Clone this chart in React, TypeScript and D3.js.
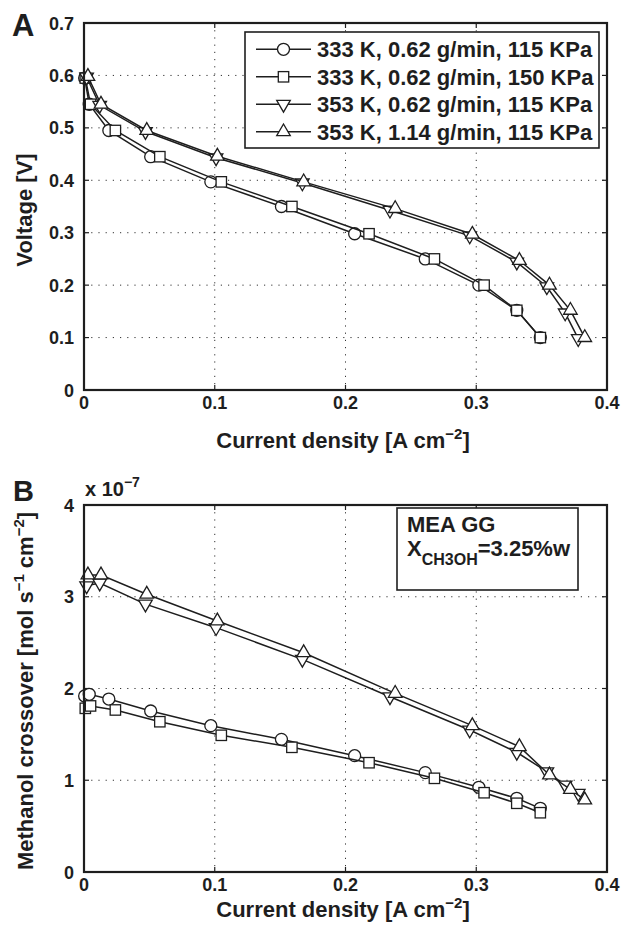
import React from 'react';
import * as d3 from 'd3';

// ---------- data ----------
const seriesLabels = [
  '333 K, 0.62 g/min, 115 KPa',
  '333 K, 0.62 g/min, 150 KPa',
  '353 K, 0.62 g/min, 115 KPa',
  '353 K, 1.14 g/min, 115 KPa',
];
const seriesMarkers = ['circle', 'square', 'down', 'up'];

const currentS1 = [0.0005, 0.004, 0.019, 0.051, 0.097, 0.151, 0.207, 0.261, 0.302, 0.331, 0.349];
const currentS2 = [0.001, 0.005, 0.024, 0.058, 0.105, 0.159, 0.218, 0.268, 0.306, 0.331, 0.349];
const currentS3 = [0.002, 0.012, 0.047, 0.101, 0.167, 0.234, 0.295, 0.331, 0.354, 0.368, 0.378];
const currentS4 = [0.003, 0.013, 0.048, 0.102, 0.168, 0.238, 0.297, 0.333, 0.356, 0.372, 0.383];

const voltageS1 = [0.595, 0.545, 0.495, 0.445, 0.397, 0.35, 0.298, 0.25, 0.2, 0.152, 0.1];
const voltageS2 = [0.595, 0.545, 0.495, 0.445, 0.397, 0.35, 0.298, 0.25, 0.2, 0.152, 0.1];
const voltageS3 = [0.597, 0.543, 0.493, 0.443, 0.395, 0.343, 0.294, 0.244, 0.197, 0.147, 0.098];
const voltageS4 = [0.598, 0.545, 0.495, 0.446, 0.397, 0.346, 0.297, 0.247, 0.2, 0.152, 0.1];

// methanol crossover, units of 1e-7 mol s^-1 cm^-2
const crossS1 = [1.918, 1.937, 1.885, 1.755, 1.595, 1.446, 1.268, 1.083, 0.923, 0.803, 0.694];
const crossS2 = [1.784, 1.81, 1.766, 1.638, 1.49, 1.359, 1.191, 1.021, 0.864, 0.749, 0.646];
const crossS3 = [3.12, 3.15, 2.92, 2.663, 2.318, 1.91, 1.548, 1.305, 1.093, 0.948, 0.857];
const crossS4 = [3.237, 3.237, 3.027, 2.736, 2.39, 1.947, 1.595, 1.366, 1.057, 0.9, 0.785];

const xTicks = [0, 0.1, 0.2, 0.3, 0.4];
const xTickLabels = ['0', '0.1', '0.2', '0.3', '0.4'];
const yTicksA = [0, 0.1, 0.2, 0.3, 0.4, 0.5, 0.6, 0.7];
const yTickLabelsA = ['0', '0.1', '0.2', '0.3', '0.4', '0.5', '0.6', '0.7'];
const yTicksB = [0, 1, 2, 3, 4];
const yTickLabelsB = ['0', '1', '2', '3', '4'];

// ---------- style ----------
const INK = '#1e1e1e';
const FONT = '"Liberation Sans", Arial, Helvetica, sans-serif';
const PL = 84;
const PR = 607;

function Marker({ kind, x, y }: { kind: string; x: number; y: number }) {
  const common = { fill: '#fff', stroke: INK, strokeWidth: 1.3 };
  if (kind === 'circle') return <circle cx={x} cy={y} r={6} {...common} />;
  if (kind === 'square') return <rect x={x - 5.2} y={y - 5.2} width={10.4} height={10.4} {...common} />;
  const p = d3.symbol().type(d3.symbolTriangle).size(80)();
  const rot = kind === 'down' ? 180 : 0;
  return <path d={p || ''} transform={`translate(${x},${y}) rotate(${rot})`} {...common} />;
}

function Panel({
  top, bottom, yDomain, yTicks, yTickLabels, xs, ys,
}: {
  top: number; bottom: number; yDomain: [number, number]; yTicks: number[]; yTickLabels: string[];
  xs: number[][]; ys: number[][];
}) {
  const x = d3.scaleLinear().domain([0, 0.4]).range([PL, PR]);
  const y = d3.scaleLinear().domain(yDomain).range([bottom, top]);
  const line = d3.line<[number, number]>().x((d) => x(d[0])).y((d) => y(d[1]));
  return (
    <g>
      {xTicks.map((t, i) => (
        <line key={'gx' + i} x1={x(t)} x2={x(t)} y1={top} y2={bottom} stroke="#333" strokeWidth={1}
          strokeDasharray="1.2,6" />
      ))}
      {yTicks.map((t, i) => (
        <line key={'gy' + i} x1={PL} x2={PR} y1={y(t)} y2={y(t)} stroke="#333" strokeWidth={1}
          strokeDasharray="1.2,6" />
      ))}
      {xTicks.map((t, i) => (
        <g key={'tx' + i}>
          <line x1={x(t)} x2={x(t)} y1={bottom} y2={bottom - 5} stroke={INK} strokeWidth={1.2} />
          <line x1={x(t)} x2={x(t)} y1={top} y2={top + 5} stroke={INK} strokeWidth={1.2} />
          <text x={x(t)} y={bottom + 19} textAnchor="middle" fontSize={18} fontWeight="bold" fill={INK}>
            {xTickLabels[i]}
          </text>
        </g>
      ))}
      {yTicks.map((t, i) => (
        <g key={'ty' + i}>
          <line x1={PL} x2={PL + 5} y1={y(t)} y2={y(t)} stroke={INK} strokeWidth={1.2} />
          <line x1={PR} x2={PR - 5} y1={y(t)} y2={y(t)} stroke={INK} strokeWidth={1.2} />
          <text x={PL - 10} y={y(t) + 6.5} textAnchor="end" fontSize={18} fontWeight="bold" fill={INK}>
            {yTickLabels[i]}
          </text>
        </g>
      ))}
      {xs.map((sx, si) => {
        const pts = sx.map((v, k) => [v, ys[si][k]] as [number, number]);
        return (
          <g key={'s' + si}>
            <path d={line(pts) || ''} fill="none" stroke={INK} strokeWidth={1.5} />
            {pts.map((p, k) => (
              <Marker key={k} kind={seriesMarkers[si]} x={x(p[0])} y={y(p[1])} />
            ))}
          </g>
        );
      })}
      <rect x={PL} y={top} width={PR - PL} height={bottom - top} fill="none" stroke={INK} strokeWidth={2.2} />
    </g>
  );
}

export default function App() {
  const xsAll = [currentS1, currentS2, currentS3, currentS4];
  const legendRows = [49.3, 76.8, 104.3, 131.8];
  return (
    <svg width={624} height={933} viewBox="0 0 624 933"
      style={{ position: 'absolute', left: 0, top: 0, background: '#fff', fontFamily: FONT }}>
      <rect x={0} y={0} width={624} height={933} fill="#fff" />
      {/* Panel A */}
      <Panel top={23} bottom={390} yDomain={[0, 0.7]} yTicks={yTicksA} yTickLabels={yTickLabelsA}
        xs={xsAll} ys={[voltageS1, voltageS2, voltageS3, voltageS4]} />
      <text x={12} y={36} fontSize={31} fontWeight="bold" fill={INK}>A</text>
      <text transform="translate(32,210) rotate(-90)" textAnchor="middle" fontSize={22} fontWeight="bold" fill={INK}>
        Voltage [V]
      </text>
      <text x={343} y={448} textAnchor="middle" fontSize={22} fontWeight="bold" fill={INK}>
        Current density [A cm<tspan dy={-9} fontSize={15}>−2</tspan><tspan dy={9}>]</tspan>
      </text>
      {/* legend */}
      <rect x={245} y={32} width={354} height={116} fill="#fff" stroke={INK} strokeWidth={1.6} />
      {seriesLabels.map((lab, i) => (
        <g key={'lg' + i}>
          <line x1={256} x2={311} y1={legendRows[i]} y2={legendRows[i]} stroke={INK} strokeWidth={1.4} />
          <Marker kind={seriesMarkers[i]} x={283.5} y={legendRows[i]} />
          <text x={317} y={legendRows[i] + 8} fontSize={22} fontWeight="bold" fill={INK}>{lab}</text>
        </g>
      ))}

      {/* Panel B */}
      <Panel top={505} bottom={872} yDomain={[0, 4]} yTicks={yTicksB} yTickLabels={yTickLabelsB}
        xs={xsAll} ys={[crossS1, crossS2, crossS3, crossS4]} />
      <text x={13} y={501} fontSize={29} fontWeight="bold" fill={INK}>B</text>
      <text x={85} y={496} fontSize={20} fontWeight="bold" fill={INK}>
        x 10<tspan dy={-9} fontSize={14}>−7</tspan>
      </text>
      <text transform="translate(33,691) rotate(-90)" textAnchor="middle" fontSize={22} fontWeight="bold" fill={INK}>
        Methanol crossover [mol s<tspan dy={-9} fontSize={15}>−1</tspan>
        <tspan dy={9}> cm</tspan><tspan dy={-9} fontSize={15}>−2</tspan><tspan dy={9}>]</tspan>
      </text>
      <text x={343} y={917} textAnchor="middle" fontSize={22} fontWeight="bold" fill={INK}>
        Current density [A cm<tspan dy={-9} fontSize={15}>−2</tspan><tspan dy={9}>]</tspan>
      </text>
      {/* annotation */}
      <rect x={397} y={508} width={181} height={82} fill="#fff" stroke={INK} strokeWidth={1.6} />
      <text x={407} y={532} fontSize={22} fontWeight="bold" fill={INK}>MEA GG</text>
      <text x={407} y={556} fontSize={22} fontWeight="bold" fill={INK}>
        X<tspan dy={9} fontSize={16}>CH3OH</tspan><tspan dy={-9}>=3.25%w</tspan>
      </text>
    </svg>
  );
}
